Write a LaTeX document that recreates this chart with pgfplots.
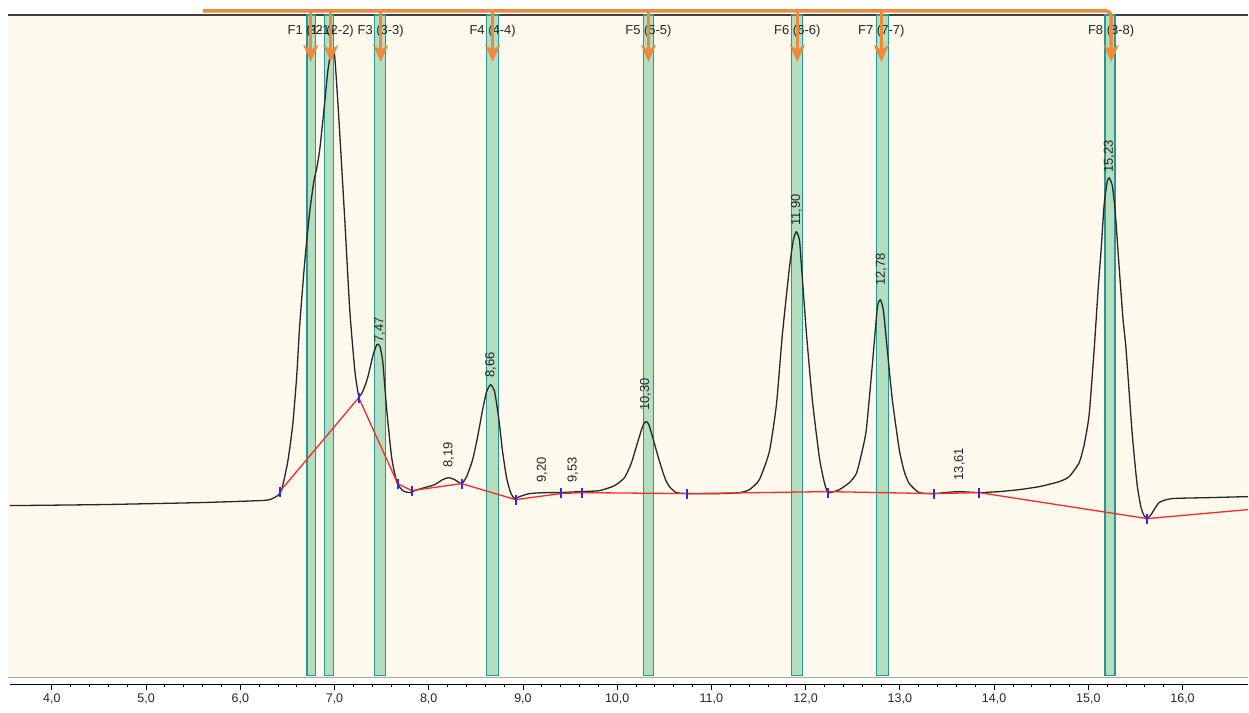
\documentclass[border=0pt]{standalone}
\usepackage{fontspec}
\setmainfont{Liberation Sans}
\usepackage{pgfplots}
\pgfplotsset{compat=1.18}
\usetikzlibrary{arrows.meta}
\definecolor{cream}{RGB}{253,250,237}
\definecolor{barfill}{RGB}{180,222,192}
\definecolor{bardraw}{RGB}{40,150,145}
\definecolor{orangeline}{RGB}{238,138,58}
\definecolor{bluetick}{RGB}{40,40,255}
\definecolor{redline}{RGB}{255,40,40}
\begin{document}
\begin{tikzpicture}
\begin{axis}[
  scale only axis, width=1239pt, height=670pt,
  xmin=3.556, xmax=16.695, ymin=28, ymax=698,
  axis x line*=bottom, axis y line*=left,
  y axis line style={draw=none}, ytick=\empty,
  x axis line style={black, line width=1pt},
  xtick={4,5,6,7,8,9,10,11,12,13,14,15,16}, minor x tick num=4,
  tick align=outside,
  major tick length=6pt, minor tick length=3pt,
  tick style={black, line width=0.8pt},
  xticklabel style={font=\fontsize{12.5}{14}\selectfont, text=black!85,
    /pgf/number format/fixed, /pgf/number format/fixed zerofill,
    /pgf/number format/precision=1, /pgf/number format/use comma,
    /pgf/number format/assume math mode=true},
  clip=false,
]
% bounding box and background
\path (axis cs:3.45,0) rectangle (axis cs:16.695,713);
\fill[cream] (axis cs:3.535,35) rectangle (axis cs:16.695,698);
\draw[gray!70, line width=1pt] (axis cs:3.535,35) -- (axis cs:16.695,35);
\draw[black!75, line width=2pt] (axis cs:3.535,698) -- (axis cs:16.695,698);

% fraction bars
\addplot[fill=barfill, draw=bardraw, line width=1.5pt] coordinates {(6.706,37) (6.706,698) (6.801,698) (6.801,37)} -- cycle;
\addplot[fill=barfill, draw=bardraw, line width=1.5pt] coordinates {(6.896,37) (6.896,698) (6.992,698) (6.992,37)} -- cycle;
\addplot[fill=barfill, draw=bardraw, line width=1.5pt] coordinates {(7.427,37) (7.427,698) (7.543,698) (7.543,37)} -- cycle;
\addplot[fill=barfill, draw=bardraw, line width=1.5pt] coordinates {(8.614,37) (8.614,698) (8.742,698) (8.742,37)} -- cycle;
\addplot[fill=barfill, draw=bardraw, line width=1.5pt] coordinates {(10.279,37) (10.279,698) (10.385,698) (10.385,37)} -- cycle;
\addplot[fill=barfill, draw=bardraw, line width=1.5pt] coordinates {(11.849,37) (11.849,698) (11.965,698) (11.965,37)} -- cycle;
\addplot[fill=barfill, draw=bardraw, line width=1.5pt] coordinates {(12.750,37) (12.750,698) (12.877,698) (12.877,37)} -- cycle;
\addplot[fill=barfill, draw=bardraw, line width=1.5pt] coordinates {(15.179,37) (15.179,698) (15.284,698) (15.284,37)} -- cycle;

% chromatogram signal
\addplot[black!85, line width=1.3pt, smooth, tension=0.35] coordinates {
(3.556,207) (4.510,208) (5.571,210) (6.207,212) (6.313,213) (6.398,217) (6.440,223)
(6.504,251) (6.557,288) (6.600,338) (6.631,388) (6.684,451) (6.737,501) (6.780,531)
(6.812,545) (6.843,563) (6.886,601) (6.928,641) (6.960,660) (6.981,663) (7.002,657)
(7.034,613) (7.066,563) (7.109,493) (7.162,403) (7.215,343) (7.257,317) (7.299,321)
(7.352,335) (7.405,356) (7.448,368) (7.480,367) (7.512,351) (7.554,303) (7.607,255)
(7.660,231) (7.724,222) (7.798,220) (7.851,222) (7.957,225) (8.063,228) (8.148,233)
(8.211,235) (8.275,233) (8.349,229) (8.402,236) (8.466,253) (8.519,276) (8.572,303)
(8.614,321) (8.657,328) (8.699,321) (8.742,295) (8.784,261) (8.826,235) (8.869,220)
(8.911,214) (8.964,216) (9.070,219) (9.229,220) (9.388,220) (9.601,221) (9.813,222)
(9.972,227) (10.078,235) (10.152,250) (10.216,270) (10.269,286) (10.300,291) (10.332,289)
(10.375,276) (10.428,258) (10.470,245) (10.513,233) (10.555,226) (10.629,220) (10.767,219)
(11.085,219) (11.297,220) (11.403,223) (11.509,233) (11.615,261) (11.690,308) (11.753,378)
(11.828,445) (11.870,473) (11.902,481) (11.934,473) (11.955,448) (12.008,380) (12.071,313)
(12.146,255) (12.199,230) (12.241,220) (12.358,223) (12.464,230) (12.538,239) (12.591,258)
(12.644,283) (12.708,348) (12.761,405) (12.792,413) (12.824,403) (12.867,363) (12.920,313)
(12.994,263) (13.047,241) (13.100,229) (13.206,220) (13.365,219) (13.609,221) (13.842,220)
(14.054,221) (14.267,223) (14.479,226) (14.691,231) (14.797,236) (14.903,250) (14.956,268)
(15.009,298) (15.062,363) (15.104,423) (15.136,463) (15.168,508) (15.200,531) (15.221,535)
(15.253,528) (15.284,503) (15.327,446) (15.369,393) (15.401,363) (15.465,280) (15.518,228)
(15.560,205) (15.592,197) (15.624,194) (15.666,198) (15.751,210) (15.889,214) (16.281,215)
(16.695,216)};

% integration baseline
\addplot[redline, line width=1.3pt] coordinates {
(6.419,221) (7.257,315) (7.671,229) (7.819,222) (8.349,229) (8.922,213) (9.399,219)
(9.622,220) (10.746,219) (12.241,221) (13.365,219) (13.842,220) (15.624,194) (16.695,203)};

% peak delimiters
\addplot[only marks, mark=|, mark size=5pt, color=bluetick, mark options={draw=bluetick, line width=2pt}] coordinates {
(6.419,221) (7.257,315) (7.671,229) (7.819,222) (8.349,229) (8.922,213) (9.399,220)
(9.622,220) (10.746,219) (12.241,220) (13.365,219) (13.842,220) (15.624,194)};

% peak labels
\begin{scope}[every node/.style={rotate=90, anchor=west, inner sep=0pt, text=black!85, font=\fontsize{13}{15}\selectfont}]
\node at (axis cs:7.480,370) {7,47};
\node at (axis cs:8.211,245) {8,19};
\node at (axis cs:8.657,335) {8,66};
\node at (axis cs:9.203,230) {9,20};
\node at (axis cs:9.530,230) {9,53};
\node at (axis cs:10.30,302) {10,30};
\node at (axis cs:11.902,487) {11,90};
\node at (axis cs:12.803,427) {12,78};
\node at (axis cs:13.631,232) {13,61};
\node at (axis cs:15.221,540) {15,23};
\end{scope}

% fraction labels
\begin{scope}[every node/.style={text=black!85, inner sep=0pt, font=\fontsize{13}{15}\selectfont}]
\node at (axis cs:6.748,682) {F1 (1-1)};
\node at (axis cs:6.960,682) {F2 (2-2)};
\node at (axis cs:7.490,682) {F3 (3-3)};
\node at (axis cs:8.678,682) {F4 (4-4)};
\node at (axis cs:10.332,682) {F5 (5-5)};
\node at (axis cs:11.912,682) {F6 (6-6)};
\node at (axis cs:12.803,682) {F7 (7-7)};
\node at (axis cs:15.242,682) {F8 (8-8)};
\end{scope}

% orange collection bracket
\draw[orangeline, line width=3.5pt, rounded corners=5pt, -{Stealth[length=17pt,width=15pt,inset=5pt]}]
  (axis cs:5.603,702) -- (axis cs:15.242,702) -- (axis cs:15.242,651);
\foreach \xx in {6.748,6.960,7.490,8.678,10.332,11.912,12.803}{
  \edef\tmp{\noexpand\draw[orangeline, line width=3pt, -{Stealth[length=17pt,width=15pt,inset=5pt]}]
    (axis cs:\xx,702) -- (axis cs:\xx,651);}\tmp
}
\end{axis}
\end{tikzpicture}
\end{document}
